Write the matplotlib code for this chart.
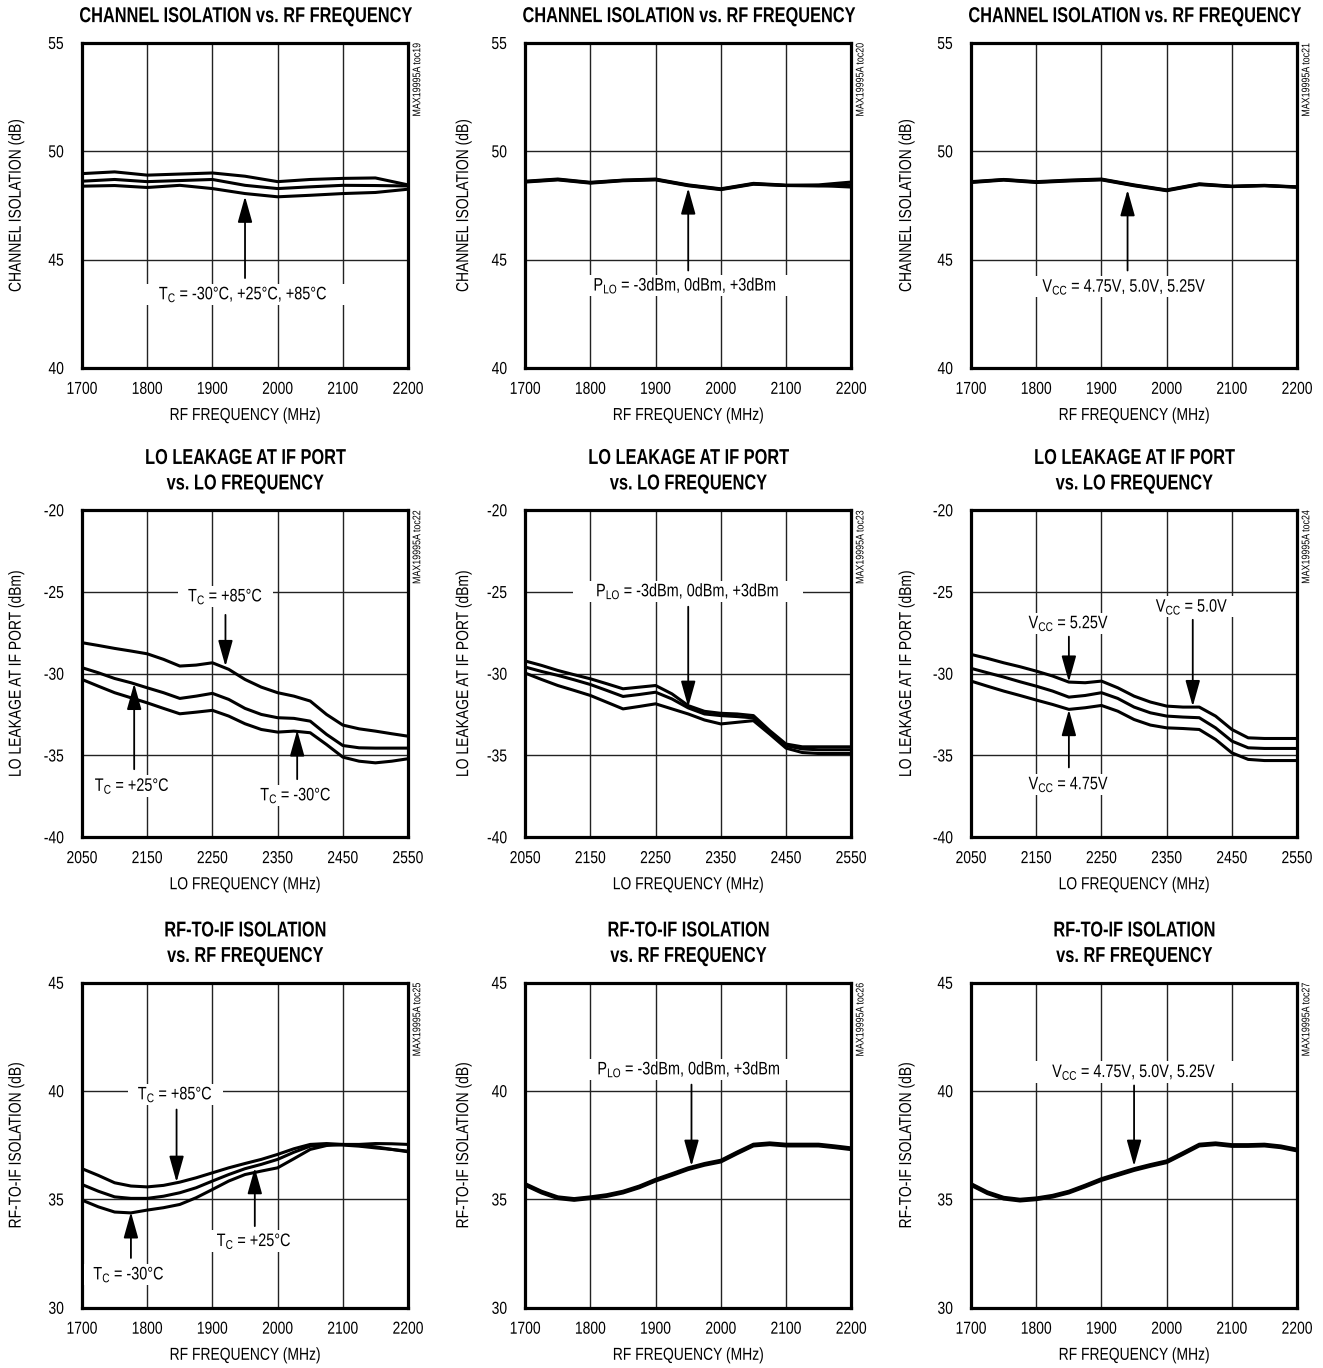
import numpy as np
import matplotlib
matplotlib.use("Agg")
from matplotlib import pyplot as plt
from matplotlib.patheffects import AbstractPathEffect
from matplotlib.transforms import Affine2D
from matplotlib.text import Text

plt.rcParams['font.family'] = ['Liberation Sans', 'DejaVu Sans']
plt.rcParams['mathtext.default'] = 'regular'
plt.rcParams['axes.unicode_minus'] = False

# ---- data ----
rf_freq = [1700, 1750, 1800, 1850, 1900, 1950, 2000, 2050, 2100, 2150, 2200]
rf_freq_fine = [1700, 1725, 1750, 1775, 1800, 1825, 1850, 1875, 1900, 1925, 1950,
                1975, 2000, 2025, 2050, 2075, 2100, 2125, 2150, 2175, 2200]
lo_freq = [2050, 2075, 2100, 2125, 2150, 2175, 2200, 2225, 2250, 2275, 2300,
           2325, 2350, 2375, 2400, 2425, 2450, 2475, 2500, 2525, 2550]

# channel isolation (dB)
ci_t85 = [48.97, 49.05, 48.90, 48.95, 49.00, 48.85, 48.60, 48.70, 48.75, 48.77, 48.45]
ci_t25 = [48.62, 48.70, 48.60, 48.65, 48.70, 48.43, 48.28, 48.36, 48.43, 48.42, 48.40]
ci_tm30 = [48.39, 48.42, 48.33, 48.43, 48.28, 48.05, 47.90, 47.97, 48.05, 48.10, 48.25]

ci_plo_m3 = [48.62, 48.72, 48.57, 48.67, 48.72, 48.45, 48.27, 48.52, 48.44, 48.42, 48.35]
ci_plo_0 = [48.60, 48.70, 48.55, 48.66, 48.70, 48.43, 48.25, 48.50, 48.42, 48.40, 48.45]
ci_plo_p3 = [48.58, 48.68, 48.53, 48.64, 48.68, 48.41, 48.23, 48.48, 48.42, 48.45, 48.58]

ci_v475 = [48.60, 48.70, 48.60, 48.67, 48.72, 48.45, 48.22, 48.50, 48.39, 48.43, 48.36]
ci_v50 = [48.58, 48.69, 48.58, 48.65, 48.70, 48.43, 48.20, 48.48, 48.38, 48.42, 48.35]
ci_v525 = [48.56, 48.67, 48.56, 48.63, 48.68, 48.41, 48.18, 48.46, 48.37, 48.41, 48.34]

# LO leakage at IF port (dBm)
lo_t85 = [-28.10, -28.27, -28.45, -28.61, -28.78, -29.12, -29.53, -29.47, -29.33, -29.73, -30.35,
          -30.82, -31.16, -31.37, -31.67, -32.49, -33.14, -33.37, -33.51, -33.67, -33.82]
lo_t25 = [-29.63, -29.94, -30.29, -30.55, -30.86, -31.16, -31.51, -31.37, -31.20, -31.57, -32.12,
          -32.49, -32.69, -32.73, -32.90, -33.71, -34.39, -34.53, -34.55, -34.55, -34.55]
lo_tm30 = [-30.35, -30.76, -31.16, -31.47, -31.78, -32.12, -32.45, -32.35, -32.24, -32.59, -33.06,
           -33.41, -33.57, -33.51, -33.61, -34.33, -35.10, -35.35, -35.45, -35.35, -35.20]

lo_plo_p3 = [-29.22, -29.49, -29.80, -30.06, -30.31, -30.61, -30.92, -30.82, -30.72, -31.23, -31.95,
             -32.30, -32.42, -32.46, -32.56, -33.48, -34.30, -34.47, -34.47, -34.47, -34.47]
lo_plo_0 = [-29.59, -29.86, -30.10, -30.37, -30.66, -31.02, -31.39, -31.27, -31.13, -31.54, -32.09,
            -32.46, -32.56, -32.62, -32.70, -33.58, -34.40, -34.60, -34.65, -34.65, -34.65]
lo_plo_m3 = [-29.96, -30.35, -30.72, -31.02, -31.33, -31.74, -32.15, -32.00, -31.84, -32.15, -32.46,
             -32.83, -33.07, -32.97, -32.87, -33.69, -34.55, -34.82, -34.88, -34.88, -34.88]

lo_v525 = [-28.82, -29.06, -29.33, -29.57, -29.84, -30.14, -30.51, -30.55, -30.45, -30.86, -31.37,
           -31.73, -31.98, -32.04, -32.04, -32.59, -33.41, -33.92, -33.96, -33.96, -33.96]
lo_v50 = [-29.67, -29.94, -30.20, -30.49, -30.76, -31.06, -31.43, -31.33, -31.16, -31.51, -32.04,
          -32.39, -32.59, -32.65, -32.69, -33.31, -34.12, -34.53, -34.57, -34.57, -34.57]
lo_v475 = [-30.45, -30.76, -31.06, -31.33, -31.61, -31.88, -32.18, -32.08, -31.94, -32.29, -32.80,
           -33.14, -33.31, -33.35, -33.41, -34.02, -34.84, -35.24, -35.31, -35.31, -35.31]

# RF-to-IF isolation (dB)
rf_t85 = [36.42, 36.11, 35.77, 35.62, 35.58, 35.65, 35.80, 36.00, 36.23, 36.46, 36.66,
          36.85, 37.08, 37.34, 37.54, 37.58, 37.54, 37.54, 37.58, 37.57, 37.54]
rf_t25 = [35.69, 35.38, 35.12, 35.05, 35.05, 35.15, 35.31, 35.54, 35.85, 36.15, 36.42,
          36.62, 36.85, 37.18, 37.46, 37.54, 37.51, 37.46, 37.38, 37.31, 37.23]
rf_tm30 = [34.97, 34.66, 34.42, 34.38, 34.51, 34.62, 34.77, 35.08, 35.46, 35.85, 36.15,
           36.31, 36.46, 36.88, 37.31, 37.49, 37.54, 37.49, 37.43, 37.31, 37.20]

rf_plo_m3 = [35.73, 35.38, 35.12, 35.04, 35.12, 35.22, 35.38, 35.62, 35.93, 36.19, 36.46,
             36.66, 36.81, 37.19, 37.55, 37.61, 37.55, 37.55, 37.55, 37.47, 37.38]
rf_plo_0 = [35.69, 35.34, 35.08, 35.00, 35.08, 35.18, 35.34, 35.58, 35.89, 36.15, 36.42,
            36.62, 36.77, 37.15, 37.51, 37.57, 37.51, 37.51, 37.51, 37.43, 37.34]
rf_plo_p3 = [35.65, 35.30, 35.04, 34.96, 35.04, 35.14, 35.30, 35.54, 35.85, 36.11, 36.38,
             36.58, 36.73, 37.11, 37.47, 37.53, 37.47, 37.47, 37.47, 37.39, 37.30]

rf_v475 = [35.73, 35.35, 35.10, 35.01, 35.07, 35.19, 35.38, 35.66, 35.96, 36.19, 36.42,
           36.61, 36.78, 37.16, 37.55, 37.61, 37.53, 37.53, 37.55, 37.47, 37.32]
rf_v50 = [35.69, 35.31, 35.06, 34.97, 35.03, 35.15, 35.34, 35.62, 35.92, 36.15, 36.38,
          36.57, 36.74, 37.12, 37.51, 37.57, 37.49, 37.49, 37.51, 37.43, 37.28]
rf_v525 = [35.65, 35.27, 35.02, 34.93, 34.99, 35.11, 35.30, 35.58, 35.88, 36.11, 36.34,
           36.53, 36.70, 37.08, 37.47, 37.53, 37.45, 37.45, 37.47, 37.39, 37.24]

# panel positions in figure fractions
col_left = [0.062, 0.397, 0.734]
ylabel_x = [-0.179, -0.166, -0.175]
row_bottom = [0.731, 0.388, 0.044]
ax_w = 0.2464
ax_h = [0.2376, 0.239, 0.2376]


# squeeze glyphs sideways to mimic the condensed face of the datasheet
class Condense(AbstractPathEffect):
    def __init__(self, sx, anchor):
        super().__init__()
        self.sx = sx
        self.anchor = anchor

    def draw_path(self, renderer, gc, tpath, affine, rgbFace=None):
        xs = tpath.vertices[:, 0]
        if len(xs) == 0:
            cx = 0.0
        elif self.anchor == 'right':
            cx = xs.max()
        elif self.anchor == 'left':
            cx = 0.0
        else:
            cx = 0.5 * (xs.min() + xs.max())
        tr = Affine2D().translate(-cx, 0).scale(self.sx, 1).translate(cx, 0) + affine
        renderer.draw_path(gc, tpath, tr, rgbFace)


def setup_axes(ax, col, title, xlim, ylim, xstep, ystep, xlabel, ylabel, toc):
    ax.set_xlim(xlim)
    ax.set_ylim(ylim)
    ax.set_xticks(np.arange(xlim[0], xlim[1] + 1, xstep))
    ax.set_yticks(np.arange(ylim[0], ylim[1] + 1, ystep))
    ax.tick_params(length=0, labelsize=12.5)
    ax.tick_params(axis='x', pad=10)
    ax.tick_params(axis='y', pad=13)
    ax.grid(True, color='#222222', lw=1.0)
    ax.set_axisbelow(True)
    for sp in ax.spines.values():
        sp.set_linewidth(2.3)
    ax.set_title(title, fontsize=15.5, fontweight='bold', pad=15, linespacing=1.28)
    ax.set_xlabel(xlabel, fontsize=12.5, labelpad=8)
    ax.set_ylabel(ylabel, fontsize=12.5)
    ax.yaxis.set_label_coords(ylabel_x[col], 0.5)
    ax.text(1.013, 1.0, 'MAX19995A toc' + toc, transform=ax.transAxes, rotation=90,
            rotation_mode='anchor', ha='right', va='top', fontsize=8)


def note(ax, label, xy_text, tail, tip):
    ax.annotate('', xy=tip, xytext=tail,
                arrowprops=dict(arrowstyle='-|>,head_width=0.28,head_length=1.0',
                                lw=1.3, color='black', mutation_scale=16,
                                shrinkA=0, shrinkB=0))
    ax.text(xy_text[0], xy_text[1], label, ha='center', va='center', fontsize=13,
            bbox=dict(fc='white', ec='none', pad=0.5))


fig = plt.figure(figsize=(13.23, 13.68), dpi=100)

axes = []
for r in range(3):
    for c in range(3):
        axes.append(fig.add_axes([col_left[c], row_bottom[r], ax_w, ax_h[r]]))

lw = 2.2
ci_title = 'CHANNEL ISOLATION vs. RF FREQUENCY'
lo_title = 'LO LEAKAGE AT IF PORT\nvs. LO FREQUENCY'
rf_title = 'RF-TO-IF ISOLATION\nvs. RF FREQUENCY'
rf_xlabel = 'RF FREQUENCY (MHz)'
lo_xlabel = 'LO FREQUENCY (MHz)'

# row 1: channel isolation
for c, (ax, series, toc) in enumerate(zip(axes[0:3],
                                          [(ci_t85, ci_t25, ci_tm30), (ci_plo_m3, ci_plo_0, ci_plo_p3),
                                           (ci_v475, ci_v50, ci_v525)],
                                          ['19', '20', '21'])):
    for s in series:
        ax.plot(rf_freq, s, color='black', lw=lw, solid_joinstyle='round')
    setup_axes(ax, c, ci_title, (1700, 2200), (40, 55), 100, 5, rf_xlabel,
               'CHANNEL ISOLATION (dB)', toc)

note(axes[0], r'T$_\mathregular{C}$ = -30°C, +25°C, +85°C', (1947, 43.4), (1950, 44.15), (1950, 47.92))
note(axes[1], r'P$_\mathregular{LO}$ = -3dBm, 0dBm, +3dBm', (1945, 43.8), (1950, 44.5), (1950, 48.3))
note(axes[2], r'V$_\mathregular{CC}$ = 4.75V, 5.0V, 5.25V', (1935, 43.75), (1940, 44.5), (1940, 48.22))

# row 2: LO leakage
for c, (ax, series, toc) in enumerate(zip(axes[3:6],
                                          [(lo_t85, lo_t25, lo_tm30), (lo_plo_p3, lo_plo_0, lo_plo_m3),
                                           (lo_v525, lo_v50, lo_v475)],
                                          ['22', '23', '24'])):
    for s in series:
        ax.plot(lo_freq, s, color='black', lw=lw, solid_joinstyle='round')
    setup_axes(ax, c, lo_title, (2050, 2550), (-40, -20), 100, 5, lo_xlabel,
               'LO LEAKAGE AT IF PORT (dBm)', toc)

note(axes[3], r'T$_\mathregular{C}$ = +85°C', (2270, -25.27), (2270, -26.4), (2270, -29.55))
note(axes[3], r'T$_\mathregular{C}$ = +25°C', (2127, -36.86), (2130, -35.84), (2130, -30.6))
note(axes[3], r'T$_\mathregular{C}$ = -30°C', (2378, -37.44), (2380, -36.45), (2380, -33.45))
note(axes[4], r'P$_\mathregular{LO}$ = -3dBm, 0dBm, +3dBm', (2299, -24.96), (2300, -25.9), (2300, -32.04))
note(axes[5], r'V$_\mathregular{CC}$ = 5.25V', (2200, -26.91), (2200, -27.73), (2200, -30.5))
note(axes[5], r'V$_\mathregular{CC}$ = 5.0V', (2389, -25.9), (2390, -26.7), (2390, -32.0))
note(axes[5], r'V$_\mathregular{CC}$ = 4.75V', (2200, -36.76), (2200, -35.73), (2200, -32.2))

# row 3: RF-to-IF isolation
for c, (ax, series, toc) in enumerate(zip(axes[6:9],
                                          [(rf_t85, rf_t25, rf_tm30), (rf_plo_m3, rf_plo_0, rf_plo_p3),
                                           (rf_v475, rf_v50, rf_v525)],
                                          ['25', '26', '27'])):
    for s in series:
        ax.plot(rf_freq_fine, s, color='black', lw=lw, solid_joinstyle='round')
    setup_axes(ax, c, rf_title, (1700, 2200), (30, 45), 100, 5, rf_xlabel,
               'RF-TO-IF ISOLATION (dB)', toc)

note(axes[6], r'T$_\mathregular{C}$ = +85°C', (1843, 39.85), (1845, 39.15), (1845, 35.8))
note(axes[6], r'T$_\mathregular{C}$ = +25°C', (1964, 33.08), (1965, 33.77), (1965, 36.46))
note(axes[6], r'T$_\mathregular{C}$ = -30°C', (1772, 31.54), (1775, 32.3), (1775, 34.42))
note(axes[7], r'P$_\mathregular{LO}$ = -3dBm, 0dBm, +3dBm', (1951, 41.0), (1955, 40.3), (1955, 36.54))
note(axes[8], r'V$_\mathregular{CC}$ = 4.75V, 5.0V, 5.25V', (1950, 40.88), (1950, 40.26), (1950, 36.54))

# apply the condensed look to every text once the layout exists
fig.canvas.draw()
for t in fig.findobj(Text):
    if not t.get_text():
        continue
    sx = 0.76 if t.get_fontweight() in ('bold', 700) else 0.8
    t.set_path_effects([Condense(sx, t.get_ha())])

fig.savefig('out.png', dpi=100)
